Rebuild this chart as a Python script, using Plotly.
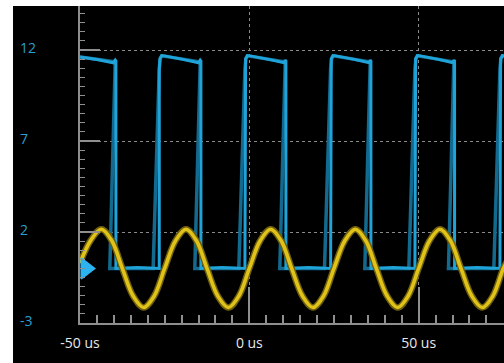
import plotly.graph_objects as go

# ---- data (time in us, level in divisions-units) ----
time_yellow = [-50.0, -46.8, -43.7, -40.6, -37.5, -34.3, -31.2, -28.1, -25.0, -21.8,
               -18.7, -15.6, -12.5, -9.3, -6.2, -3.1, 0.0, 3.2, 6.3, 9.4,
               12.5, 15.7, 18.8, 21.9, 25.0, 28.2, 31.3, 34.4, 37.5, 40.7,
               43.8, 46.9, 50.0, 53.2, 56.3, 59.4, 62.5, 65.7, 68.8, 71.9,
               75.0, 76.5]
volt_yellow = [0.3, 1.55, 2.15, 1.52, 0.0, -1.52, -2.15, -1.52, 0.0, 1.52,
               2.15, 1.52, 0.0, -1.52, -2.15, -1.52, 0.0, 1.52, 2.15, 1.52,
               0.0, -1.52, -2.15, -1.52, 0.0, 1.52, 2.15, 1.52, 0.0, -1.52,
               -2.15, -1.52, 0.0, 1.52, 2.15, 1.52, 0.0, -1.52, -2.15, -1.52,
               0.0, 0.5]

time_blue = [-50.0, -45.0, -40.2, -39.6, -39.4, -39.4, -33.0, -26.6,
             -26.6, -26.4, -25.9, -25.0, -20.0, -15.0, -14.5, -14.3, -14.3, -8.0, -1.3,
             -1.3, -1.1, -0.6, 0.3, 5.3, 10.3, 10.6, 10.8, 10.8, 17.5, 24.0,
             24.0, 24.2, 24.7, 25.6, 30.6, 35.4, 35.7, 35.9, 35.9, 42.5, 48.9,
             48.9, 49.1, 49.6, 50.5, 55.5, 60.1, 60.4, 60.6, 60.6, 67.3, 74.0,
             74.0, 74.2, 74.7, 75.6]
volt_blue = [11.62, 11.48, 11.3, 11.45, 11.4, 0.0, 0.05, 0.0,
             10.9, 11.5, 11.7, 11.68, 11.5, 11.3, 11.45, 11.4, 0.0, 0.05, 0.0,
             10.9, 11.5, 11.7, 11.68, 11.5, 11.3, 11.45, 11.4, 0.0, 0.05, 0.0,
             10.9, 11.5, 11.7, 11.68, 11.5, 11.3, 11.45, 11.4, 0.0, 0.05, 0.0,
             10.9, 11.5, 11.7, 11.68, 11.5, 11.3, 11.45, 11.4, 0.0, 0.05, 0.0,
             10.9, 11.5, 11.7, 11.68]

# dimmer persistence trace (slower edges seen behind the main trace)
time_blue_ghost = [-50.0, -39.6, -41.2, -28.4, -26.6, -26.3, -25.8,
                   -14.5, -16.1, -3.1, -1.3, -1.0, -0.5,
                   10.6, 9.0, 22.2, 24.0, 24.3, 24.8,
                   35.7, 34.1, 47.1, 48.9, 49.2, 49.7,
                   60.4, 58.8, 72.2, 74.0, 74.3, 74.8, 75.6]
volt_blue_ghost = [11.62, 11.35, 0.0, 0.0, 11.0, 11.55, 11.68,
                   11.35, 0.0, 0.0, 11.0, 11.55, 11.68,
                   11.35, 0.0, 0.0, 11.0, 11.55, 11.68,
                   11.35, 0.0, 0.0, 11.0, 11.55, 11.68,
                   11.35, 0.0, 0.0, 11.0, 11.55, 11.68, 11.66]

marker_time = [-48.3]
marker_level = [0.0]

x_tick_vals = [-50, 0, 50]
x_tick_text = ["-50 us", "0 us", "50 us"]
y_tick_vals = [12, 7, 2, -3]
y_tick_text = ["12", "7", "2", "-3"]

AXIS = "#8f8f8f"
GRID = "#8a8a8a"

fig = go.Figure()
fig.add_trace(go.Scatter(x=time_blue_ghost, y=volt_blue_ghost, mode="lines",
                         line=dict(color="#136a8e", width=3.5), hoverinfo="skip"))
fig.add_trace(go.Scatter(x=time_blue, y=volt_blue, mode="lines",
                         line=dict(color="#1fa3d8", width=3)))
fig.add_trace(go.Scatter(x=time_yellow, y=volt_yellow, mode="lines",
                         line=dict(color="#6e600e", width=6.5, shape="spline")))
fig.add_trace(go.Scatter(x=time_yellow, y=volt_yellow, mode="lines", opacity=0.95,
                         line=dict(color="#e8c81a", width=3.6, shape="spline")))
fig.add_trace(go.Scatter(x=marker_time, y=marker_level, mode="markers", cliponaxis=False,
                         marker=dict(symbol="triangle-right", size=18, color="#2db4f0",
                                     line=dict(width=1.5, color="#2db4f0"))))

fig.update_layout(
    width=504, height=363,
    margin=dict(l=80, r=0, t=6, b=40),
    paper_bgcolor="white", plot_bgcolor="black",
    showlegend=False,
    font=dict(family="Open Sans, Segoe UI, sans-serif", size=14, color="#e8e8e8"),
    shapes=[dict(type="rect", xref="paper", yref="paper", x0=-0.158, x1=1.02,
                 y0=-0.25, y1=1.0, fillcolor="black", line=dict(width=0), layer="below")],
)
fig.update_xaxes(
    range=[-50, 75.2], tickmode="array", tickvals=x_tick_vals, ticktext=x_tick_text,
    showgrid=True, gridcolor=GRID, griddash="dot", gridwidth=1.3, zeroline=False,
    showline=True, linecolor=AXIS, linewidth=2,
    ticks="inside", ticklen=36, tickwidth=1.5, tickcolor=AXIS, ticklabelstandoff=6,
    tickfont=dict(color="#e8e8e8", size=14),
    minor=dict(tickmode="linear", tick0=0, dtick=5, ticks="inside", ticklen=8,
               tickwidth=1.5, tickcolor=AXIS, showgrid=False),
)
fig.update_yaxes(
    range=[-3, 14.42], tickmode="array", tickvals=y_tick_vals, showticklabels=False,
    showgrid=True, gridcolor=GRID, griddash="dot", gridwidth=1.3, zeroline=False,
    showline=True, linecolor=AXIS, linewidth=2,
    ticks="inside", ticklen=20, tickwidth=1.5, tickcolor=AXIS,
    minor=dict(tickmode="linear", tick0=0, dtick=0.5, ticks="inside", ticklen=5,
               tickwidth=1.2, tickcolor=AXIS, showgrid=False),
)
for v, t in zip(y_tick_vals, y_tick_text):
    fig.add_annotation(x=-0.146, xref="paper", y=v, yref="y", text=t, showarrow=False,
                       xanchor="left", yanchor="middle", yshift=3,
                       font=dict(color="#2b9fd1", size=14))

fig.write_html("out.html", config={"displayModeBar": False},
               post_script="document.body.style.margin='0';document.body.style.overflow='hidden';")
